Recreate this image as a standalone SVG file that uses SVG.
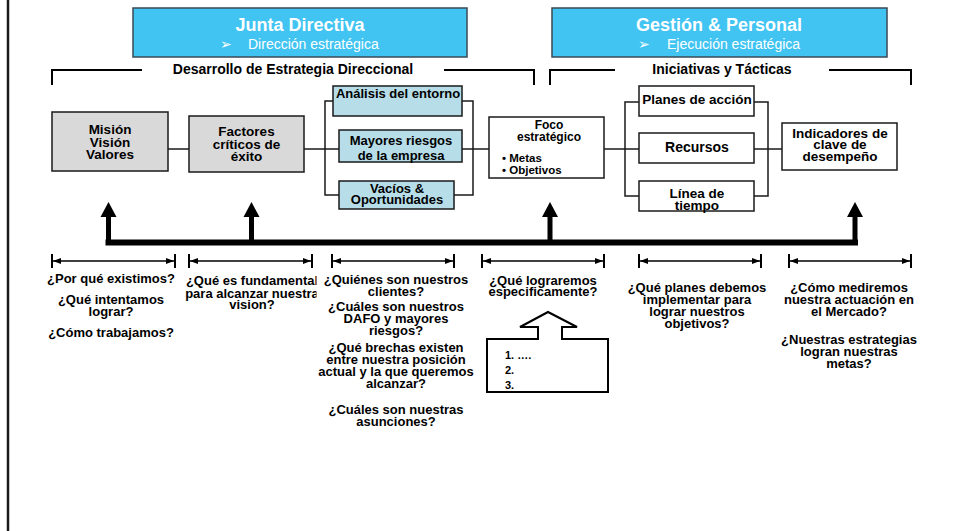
<svg xmlns="http://www.w3.org/2000/svg" width="954" height="531" viewBox="0 0 954 531">
<style>
.blue{fill:#41C4F2;stroke:#3A4A55;stroke-width:1.5}
.gray{fill:#D9D9D9;stroke:#1a1a1a;stroke-width:1.5}
.cyan{fill:#B7DEE8;stroke:#1a1a1a;stroke-width:1.5}
.wbox{fill:#fff;stroke:#1a1a1a;stroke-width:1.5}
.edge{fill:none;stroke:#1a1a1a;stroke-width:1.5}
.t{font-family:"Liberation Sans",Arial,sans-serif;font-weight:bold;fill:#000}
.c{text-anchor:middle}
.s13{font-size:13px}
.s14{font-size:14px}
.sb{font-size:13.5px}
.wt{font-family:"Liberation Sans",Arial,sans-serif;fill:#fff}
.br{fill:none;stroke:#000;stroke-width:2}
.dim{stroke:#000;stroke-width:1.5;fill:none}
.tick{stroke:#000;stroke-width:2}
</style>
<defs>
<marker id="ah" markerUnits="userSpaceOnUse" markerWidth="8" markerHeight="6" refX="8" refY="3" orient="auto-start-reverse">
<path d="M0,0 L8,3 L0,6 z" fill="#000"/>
</marker>
<clipPath id="clip2"><rect x="180" y="265" width="136.5" height="60"/></clipPath>
</defs>
<rect width="954" height="531" fill="#fff"/>
<line x1="8" y1="0" x2="8" y2="531" stroke="#1a1a1a" stroke-width="2.5"/>

<g id="junta">
<rect class="blue" x="133" y="8" width="334" height="49"/>
<text class="wt c" x="300" y="31" font-size="18" font-weight="bold">Junta Directiva</text>
<text class="wt" x="220" y="49" font-size="14" font-family="DejaVu Sans,sans-serif">➢</text>
<text class="wt" x="248" y="49" font-size="14">Dirección estratégica</text>
</g>
<g id="gestion">
<rect class="blue" x="552" y="8" width="335" height="49"/>
<text class="wt c" x="719" y="31" font-size="18" font-weight="bold">Gestión &amp; Personal</text>
<text class="wt" x="638" y="49" font-size="14" font-family="DejaVu Sans,sans-serif">➢</text>
<text class="wt" x="667" y="49" font-size="14">Ejecución estratégica</text>
</g>

<g id="desarrollo">
<path class="br" d="M52,85 V70 H142 M444,70 H534 V85"/>
<text class="t c s14" x="293" y="74">Desarrollo de Estrategia Direccional</text>
</g>
<g id="iniciativas">
<path class="br" d="M550,85 V70 H615 M829,70 H911 V85"/>
<text class="t c s14" x="722" y="74">Iniciativas y Tácticas</text>
</g>

<g id="connectors">
<path class="edge" d="M168,149 H189"/>
<path class="edge" d="M304,149 H339"/>
<path class="edge" d="M333,101 H325 V195 H339"/>
<path class="edge" d="M462,101 H473 V195 H454"/>
<path class="edge" d="M462,149 H489"/>
<path class="edge" d="M604,149 H639"/>
<path class="edge" d="M639,102 H625 V196 H639"/>
<path class="edge" d="M754,102 H768 V196 H754"/>
<path class="edge" d="M754,149 H782"/>
<g id="feedback" fill="#000">
<rect x="105.5" y="239.5" width="752.5" height="6"/>
<rect x="106" y="215" width="5" height="28"/>
<rect x="249" y="215" width="5" height="28"/>
<rect x="547.5" y="215" width="5" height="28"/>
<rect x="852.5" y="215" width="5" height="28"/>
<polygon points="100.5,217 108.5,202 116.5,217"/>
<polygon points="243.5,217 251.5,202 259.5,217"/>
<polygon points="542,217 550,202 558,217"/>
<polygon points="847,217 855,202 863,217"/>
</g>
</g>

<g id="mision">
<rect class="gray" x="52" y="112" width="116" height="59"/>
<text class="t c sb" x="110"><tspan x="110" y="134">Misión</tspan><tspan x="110" y="146.5">Visión</tspan><tspan x="110" y="159">Valores</tspan></text>
</g>
<g id="factores">
<rect class="gray" x="189" y="116" width="115" height="56"/>
<text class="t c sb" x="246.5"><tspan x="246.5" y="136">Factores</tspan><tspan x="246.5" y="148.5">críticos de</tspan><tspan x="246.5" y="161">éxito</tspan></text>
</g>
<g id="analisis">
<rect class="cyan" x="333" y="86" width="129" height="30"/>
<text class="t c s13" x="398" y="98">Análisis del entorno</text>
</g>
<g id="mayores">
<rect class="cyan" x="339" y="130" width="123" height="32"/>
<text class="t c s13"><tspan x="401" y="145">Mayores riesgos</tspan><tspan x="401" y="159.5">de la empresa</tspan></text>
</g>
<g id="vacios">
<rect class="cyan" x="339" y="181" width="115" height="28"/>
<text class="t c s13"><tspan x="397" y="192.5">Vacíos &amp;</tspan><tspan x="397" y="204">Oportunidades</tspan></text>
</g>
<g id="foco">
<rect class="wbox" x="489" y="117" width="115" height="61"/>
<text class="t c" font-size="12"><tspan x="549" y="128.5">Foco</tspan><tspan x="549" y="141">estratégico</tspan></text>
<text class="t" font-size="11.5"><tspan x="502" y="162">• Metas</tspan><tspan x="502" y="174">• Objetivos</tspan></text>
</g>
<g id="planes">
<rect class="wbox" x="639" y="86" width="115" height="30"/>
<text class="t c" font-size="13.5" x="697" y="104">Planes de acción</text>
</g>
<g id="recursos">
<rect class="wbox" x="639" y="133" width="115" height="30"/>
<text class="t c s14" x="697" y="152">Recursos</text>
</g>
<g id="linea">
<rect class="wbox" x="639" y="181" width="115" height="30"/>
<text class="t c sb"><tspan x="697" y="198">Línea de</tspan><tspan x="697" y="210">tiempo</tspan></text>
</g>
<g id="indicadores">
<rect class="wbox" x="782" y="123" width="115" height="47"/>
<text class="t c sb"><tspan x="840" y="137.5">Indicadores de</tspan><tspan x="840" y="149">clave de</tspan><tspan x="840" y="160.5">desempeño</tspan></text>
</g>

<g id="dimensions">
<path class="tick" d="M52,254 V268 M175,254 V268 M189,254 V268 M312,254 V268 M332,254 V268 M454,254 V268 M482,254 V268 M604,254 V268 M639,254 V268 M761,254 V268 M789,254 V268 M911,254 V268"/>
<line class="dim" x1="53" y1="261" x2="174" y2="261" marker-start="url(#ah)" marker-end="url(#ah)"/>
<line class="dim" x1="190" y1="261" x2="311" y2="261" marker-start="url(#ah)" marker-end="url(#ah)"/>
<line class="dim" x1="333" y1="261" x2="453" y2="261" marker-start="url(#ah)" marker-end="url(#ah)"/>
<line class="dim" x1="483" y1="261" x2="603" y2="261" marker-start="url(#ah)" marker-end="url(#ah)"/>
<line class="dim" x1="640" y1="261" x2="760" y2="261" marker-start="url(#ah)" marker-end="url(#ah)"/>
<line class="dim" x1="790" y1="261" x2="910" y2="261" marker-start="url(#ah)" marker-end="url(#ah)"/>
</g>

<g id="q1">
<text class="t c s13"><tspan x="111" y="283">¿Por qué existimos?</tspan><tspan x="111" y="304">¿Qué intentamos</tspan><tspan x="111" y="315.5">lograr?</tspan><tspan x="111" y="337">¿Cómo trabajamos?</tspan></text>
</g>
<g id="q2" clip-path="url(#clip2)">
<text class="t c s13"><tspan x="252" y="285">¿Qué es fundamental</tspan><tspan x="252" y="297.5">para alcanzar nuestra</tspan><tspan x="252" y="309">vision?</tspan></text>
</g>
<g id="q3">
<text class="t c s13"><tspan x="396" y="284">¿Quiénes son nuestros</tspan><tspan x="396" y="295.5">clientes?</tspan><tspan x="396" y="311">¿Cuáles son nuestros</tspan><tspan x="396" y="323">DAFO y mayores</tspan><tspan x="396" y="335">riesgos?</tspan><tspan x="396" y="352">¿Qué brechas existen</tspan><tspan x="396" y="364">entre nuestra posición</tspan><tspan x="396" y="376">actual y la que queremos</tspan><tspan x="396" y="388">alcanzar?</tspan><tspan x="396" y="414">¿Cuáles son nuestras</tspan><tspan x="396" y="426">asunciones?</tspan></text>
</g>
<g id="q4">
<text class="t c s13"><tspan x="543" y="285">¿Qué lograremos</tspan><tspan x="543" y="296">especificamente?</tspan></text>
</g>
<g id="lista">
<path d="M487,339 H538 V327 H520 L548,312 L577,327 H562 V339 H608 V392 H487 Z" fill="#fff" stroke="#000" stroke-width="2"/>
<text class="t" font-size="11"><tspan x="505" y="359">1. ….</tspan><tspan x="505" y="374">2.</tspan><tspan x="505" y="389">3.</tspan></text>
</g>
<g id="q5">
<text class="t c s13"><tspan x="697" y="292">¿Qué planes debemos</tspan><tspan x="697" y="304">implementar para</tspan><tspan x="697" y="316">lograr nuestros</tspan><tspan x="697" y="328">objetivos?</tspan></text>
</g>
<g id="q6">
<text class="t c s13"><tspan x="849" y="292">¿Cómo mediremos</tspan><tspan x="849" y="304">nuestra actuación en</tspan><tspan x="849" y="316">el Mercado?</tspan><tspan x="849" y="344">¿Nuestras estrategias</tspan><tspan x="849" y="356">logran nuestras</tspan><tspan x="849" y="368">metas?</tspan></text>
</g>
</svg>
